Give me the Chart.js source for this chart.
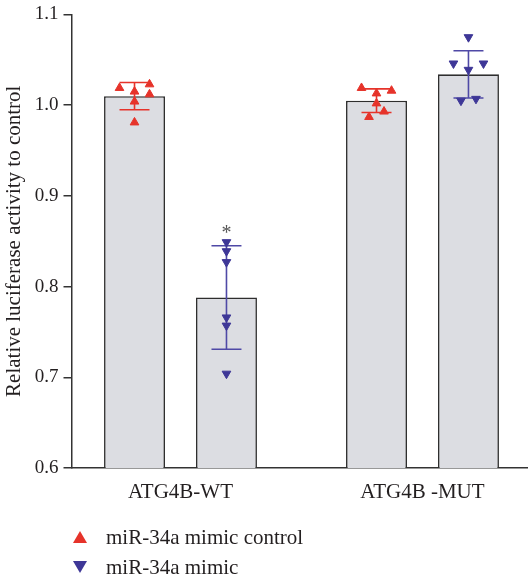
<!DOCTYPE html>
<html>
<head>
<meta charset="utf-8">
<title>Relative luciferase activity</title>
<script src="https://cdn.jsdelivr.net/npm/chart.js@4.4.1/dist/chart.umd.min.js"></script>
<style>
  html, body { margin: 0; padding: 0; background: #ffffff; }
  #wrap { position: relative; width: 528px; height: 577px; }
  canvas { display: block; }
  #legend { position: absolute; left: 73px; top: 522px; font-family: "Liberation Serif", "DejaVu Serif", serif; font-size: 21px; color: #231f20; }
  .row { display: flex; align-items: center; height: 30px; }
  .mark { width: 0; height: 0; border-left: 7px solid transparent; border-right: 7px solid transparent; }
  .up { border-bottom: 12px solid; }
  .down { border-top: 12px solid; }
  .label { margin-left: 19px; white-space: nowrap; }
</style>
</head>
<body>
<div id="wrap">
  <canvas id="chart" width="528" height="577"></canvas>
  <div id="legend"></div>
</div>
<script>
// Groups on the x axis
const groups = ['ATG4B-WT', 'ATG4B -MUT'];
const seriesNames = ['miR-34a mimic control', 'miR-34a mimic'];

// Bar heights (mean) and standard deviations per group
const controlMeans = [1.010, 1.005];
const mimicMeans = [0.788, 1.034];
const controlSD = [0.015, 0.013];
const mimicSD = [0.057, 0.026];

// Individual replicates per group
const controlPoints = [
  [1.019, 1.015, 1.023, 1.012, 1.004, 0.981],
  [1.019, 1.013, 1.016, 1.002, 0.993, 0.987]
];
const mimicPoints = [
  [0.849, 0.839, 0.827, 0.766, 0.757, 0.704],
  [1.075, 1.046, 1.046, 1.039, 1.005, 1.007]
];
// Horizontal jitter slot of each replicate (-1 left, 0 centre, 1 right)
const controlSlots = [
  [-1, 0, 1, 1, 0, 0],
  [-1, 0, 1, 0, 0.5, -0.5]
];
const mimicSlots = [
  [0, 0, 0, 0, 0, 0],
  [0, -1, 1, 0, -0.5, 0.5]
];
// Significance marks above the bars
const controlStars = ['', ''];
const mimicStars = ['*', ''];

const yTicks = [0.6, 0.7, 0.8, 0.9, 1.0, 1.1];

const RED = '#e6332a';
const BLUE = '#3e3797';
const INK = '#231f20';
const FONT = '"Liberation Serif", "DejaVu Serif", serif';

const catPct = 0.76;
const barPct = 0.663;
const slotStep = 0.062;

function scatterData(points, slots, shift) {
  const out = [];
  points.forEach((vals, g) => {
    vals.forEach((v, k) => out.push({ x: g + shift + slots[g][k] * slotStep, y: v }));
  });
  return out;
}

const errorBars = {
  id: 'errorBars',
  afterDatasetDraw(chart, args) {
    const meta = args.meta;
    if (meta.type !== 'bar') return;
    const ds = chart.data.datasets[args.index];
    const y = chart.scales.y;
    const ctx = chart.ctx;
    ctx.save();
    ctx.strokeStyle = ds.errColor;
    ctx.lineWidth = 1.6;
    meta.data.forEach((bar, i) => {
      const m = ds.data[i].y;
      const sd = ds.sd[i];
      const top = y.getPixelForValue(m + sd);
      const bot = y.getPixelForValue(m - sd);
      const x = bar.x;
      ctx.beginPath();
      ctx.moveTo(x, top); ctx.lineTo(x, bot);
      ctx.moveTo(x - 15, top); ctx.lineTo(x + 15, top);
      ctx.moveTo(x - 15, bot); ctx.lineTo(x + 15, bot);
      ctx.stroke();
      const star = ds.stars[i];
      if (star) {
        ctx.fillStyle = '#555555';
        ctx.font = '20px ' + FONT;
        ctx.textAlign = 'center';
        ctx.textBaseline = 'alphabetic';
        ctx.fillText(star, x, top - 7);
      }
    });
    ctx.restore();
  }
};

new Chart(document.getElementById('chart'), {
  type: 'bar',
  data: {
    datasets: [
      {
        type: 'bar', label: seriesNames[0], order: 3,
        data: controlMeans.map((v, i) => ({ x: i, y: v })),
        sd: controlSD, stars: controlStars, errColor: RED,
        backgroundColor: '#dcdde2', borderColor: '#2e2e2e', borderWidth: 1.6,
        categoryPercentage: catPct, barPercentage: barPct
      },
      {
        type: 'bar', label: seriesNames[1], order: 3,
        data: mimicMeans.map((v, i) => ({ x: i, y: v })),
        sd: mimicSD, stars: mimicStars, errColor: '#4f49a6',
        backgroundColor: '#dcdde2', borderColor: '#2e2e2e', borderWidth: 1.6,
        categoryPercentage: catPct, barPercentage: barPct
      },
      {
        type: 'scatter', label: seriesNames[0], order: 1,
        data: scatterData(controlPoints, controlSlots, -catPct / 4),
        pointStyle: 'triangle', pointRotation: 0, pointRadius: 5, pointBorderWidth: 1,
        backgroundColor: RED, borderColor: RED
      },
      {
        type: 'scatter', label: seriesNames[1], order: 1,
        data: scatterData(mimicPoints, mimicSlots, catPct / 4),
        pointStyle: 'triangle', pointRotation: 180, pointRadius: 5, pointBorderWidth: 1,
        backgroundColor: BLUE, borderColor: BLUE
      }
    ]
  },
  options: {
    responsive: false,
    animation: false,
    devicePixelRatio: 1,
    layout: { autoPadding: false, padding: { top: 12, right: 0, bottom: 69, left: 0 } },
    plugins: { legend: { display: false }, tooltip: { enabled: false } },
    scales: {
      x: {
        type: 'linear',
        offset: false,
        min: -0.4504,
        max: 1.436,
        afterBuildTicks: (s) => { s.ticks = groups.map((_, i) => ({ value: i })); },
        afterFit: (s) => { s.height = 40; s.paddingLeft = 0; s.paddingRight = 0; },
        grid: { display: false, offset: false },
        border: { display: true, color: '#333333', width: 1.5 },
        ticks: {
          autoSkip: false, maxRotation: 0, padding: 4,
          color: INK, font: { family: FONT, size: 21 },
          callback: (v) => groups[v]
        }
      },
      y: {
        type: 'linear',
        min: 0.6,
        max: 1.1,
        afterBuildTicks: (s) => { s.ticks = yTicks.map(v => ({ value: v })); },
        afterFit: (s) => { s.width = 71.5; },
        grid: { drawOnChartArea: false, tickLength: 8, color: '#333333', lineWidth: 1.5 },
        border: { display: true, color: '#333333', width: 1.5 },
        ticks: {
          padding: 5, color: INK, font: { family: FONT, size: 19, lineHeight: 1 },
          callback: (v) => Number(v).toFixed(1)
        },
        title: {
          display: true, text: 'Relative luciferase activity to control',
          color: INK, font: { family: FONT, size: 21 }, padding: { top: 2, bottom: 0 }
        }
      }
    }
  },
  plugins: [errorBars]
});

// Legend below the plot
const legend = document.getElementById('legend');
[[seriesNames[0], RED, 'up'], [seriesNames[1], BLUE, 'down']].forEach(([name, color, dir]) => {
  const row = document.createElement('div');
  row.className = 'row';
  const mark = document.createElement('div');
  mark.className = 'mark ' + dir;
  if (dir === 'up') mark.style.borderBottomColor = color; else mark.style.borderTopColor = color;
  const label = document.createElement('span');
  label.className = 'label';
  label.textContent = name;
  row.appendChild(mark);
  row.appendChild(label);
  legend.appendChild(row);
});
</script>
</body>
</html>
